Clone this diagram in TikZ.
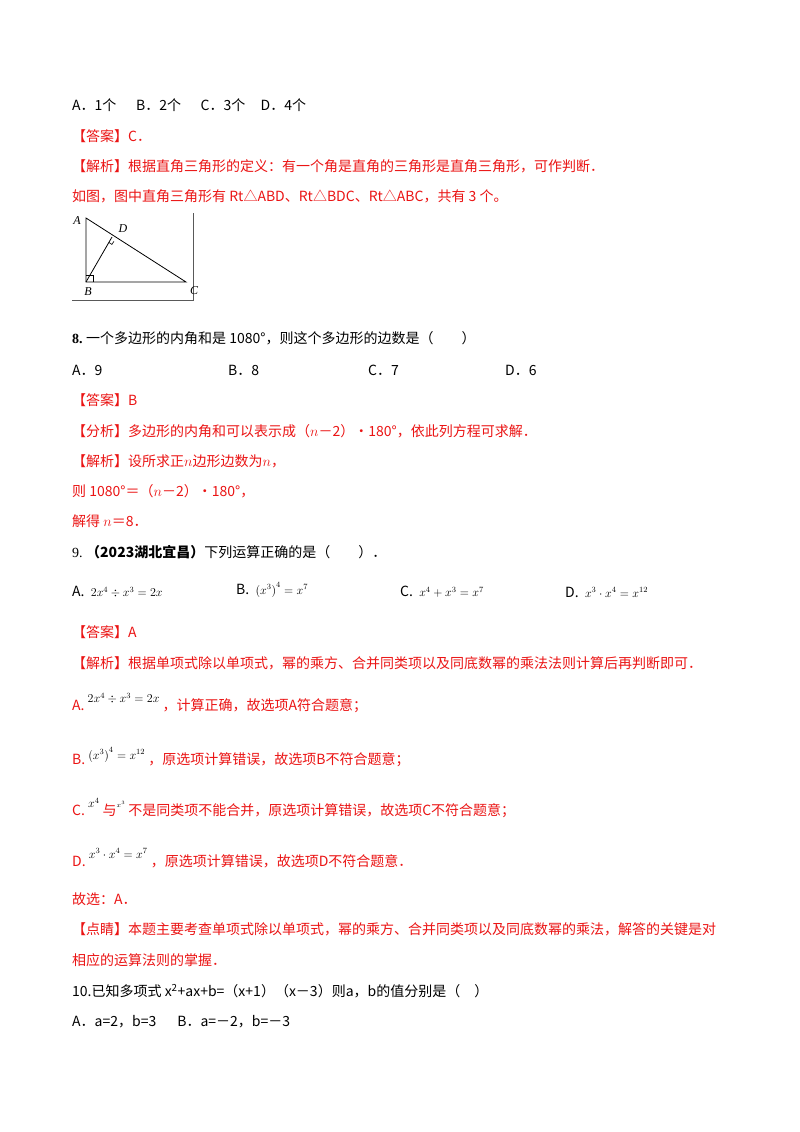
\documentclass[tikz,border=0pt]{standalone}
\usepackage{fontspec}
\usetikzlibrary{calc}
\newfontfamily\cjk{Noto Sans CJK SC}
\setmainfont{Liberation Serif}
\definecolor{rd}{RGB}{235,20,20}
\begin{document}
\begin{tikzpicture}[x=1pt,y=-1pt,
  t/.style={anchor=west,inner sep=0pt,font=\fontsize{14}{16}\selectfont},
  r/.style={t,text=rd},
  lab/.style={inner sep=0pt,font=\itshape\fontsize{12}{14}\selectfont}]
\useasboundingbox (0,0) rectangle (800,1132);
\fill[white] (0,0) rectangle (800,1132);
\node[t] (l1) at (72,105) {\cjk A．1个\hspace{1.4em}B．2个\hspace{1.4em}C．3个\hspace{1.1em}D．4个};
\node[r] (l2) at (72,136) {\cjk 【答案】C．};
\node[r] (l3) at (72,166) {\cjk 【解析】根据直角三角形的定义：有一个角是直角的三角形是直角三角形，可作判断．};
\node[r] (l4) at (72,196) {\cjk 如图，图中直角三角形有 Rt△ABD、Rt△BDC、Rt△ABC，共有 3 个。};
% triangle
\coordinate (A) at (86,218);
\coordinate (B) at (86,282);
\coordinate (C) at (186,282);
\coordinate (D) at (112,237);
\draw[line width=0.8pt] (A) -- (B) -- (C) -- cycle;
\draw[line width=0.8pt] (B) -- (D);
\draw[line width=0.8pt] (86,275) -- (93,275) -- (93,282);
\draw[line width=0.6pt] ($(D)!0.12!(B)$) -- ++(3,2) -- ++(2,-3);
\draw[line width=0.8pt,gray!70!black] (193,213) -- (193,300) -- (72,300);
\node[lab] (la) at (77,221) {A};
\node[lab] (ld) at (123,229) {D};
\node[lab] (lb) at (88,292) {B};
\node[lab] (lc) at (194,291) {C};
\node[t] (q8) at (72,338) {\textbf{8.}\ \cjk 一个多边形的内角和是 1080°，则这个多边形的边数是（　　）};
\node[t] (q8a) at (72,370) {\cjk A．9};
\node[t] (q8b) at (228,370) {\cjk B．8};
\node[t] (q8c) at (368,370) {\cjk C．7};
\node[t] (q8d) at (505,370) {\cjk D．6};
\node[r] (a8) at (72,400) {\cjk 【答案】B};
\node[r] (f8) at (72,431) {\cjk 【分析】多边形的内角和可以表示成（$n$－2）•180°，依此列方程可求解．};
\node[r] (j8) at (72,461) {\cjk 【解析】设所求正$n$边形边数为$n$，};
\node[r] (j8b) at (72,491) {\cjk 则 1080°＝（$n$－2）•180°，};
\node[r] (j8c) at (72,521) {\cjk 解得 $n$＝8．};
\node[t] (q9) at (72,552) {9.\ \textbf{\cjk （2023湖北宜昌）}\cjk 下列运算正确的是（　　）．};
\node[t] (o9a) at (72,592) {\cjk A.\ \ \large$2x^4\div x^3=2x$};
\node[t] (o9b) at (236,590) {\cjk B.\ \ \large$\left(x^3\right)^4=x^7$};
\node[t] (o9c) at (400,592) {\cjk C.\ \ \large$x^4+x^3=x^7$};
\node[t] (o9d) at (565,592) {\cjk D.\ \ \large$x^3\cdot x^4=x^{12}$};
\node[r] (a9) at (72,632) {\cjk 【答案】A};
\node[r] (j9) at (72,663) {\cjk 【解析】根据单项式除以单项式，幂的乘方、合并同类项以及同底数幂的乘法法则计算后再判断即可．};
\node[r] (j9a) at (72,703) {\cjk A.\ \raisebox{8pt}{\color{black}\large$2x^4\div x^3=2x$}\ ，计算正确，故选项A符合题意；};
\node[r] (j9b) at (72,757) {\cjk B.\ \raisebox{5pt}{\color{black}\large$\left(x^3\right)^4=x^{12}$}\ ，原选项计算错误，故选项B不符合题意；};
\node[r] (j9c) at (72,808) {\cjk C.\ \raisebox{8pt}{\color{black}\large$x^4$}\ 与\raisebox{8pt}{\color{black}\scriptsize$x^3$}\ 不是同类项不能合并，原选项计算错误，故选项C不符合题意；};
\node[r] (j9d) at (72,858) {\cjk D.\ \raisebox{8pt}{\color{black}\large$x^3\cdot x^4=x^7$}\ ，原选项计算错误，故选项D不符合题意．};
\node[r] (g9) at (72,899) {\cjk 故选：A．};
\node[r] (d9) at (72,929) {\cjk 【点睛】本题主要考查单项式除以单项式，幂的乘方、合并同类项以及同底数幂的乘法，解答的关键是对};
\node[r] (d9b) at (72,960) {\cjk 相应的运算法则的掌握．};
\node[t] (q10) at (72,991) {\cjk 10.已知多项式 x\textsuperscript{2}+ax+b=（x+1）（x－3）则a，b的值分别是（　）};
\node[t] (q10a) at (72,1022) {\cjk A．a=2，b=3\hspace{1.5em}B．a=－2，b=－3};
\end{tikzpicture}
\end{document}
